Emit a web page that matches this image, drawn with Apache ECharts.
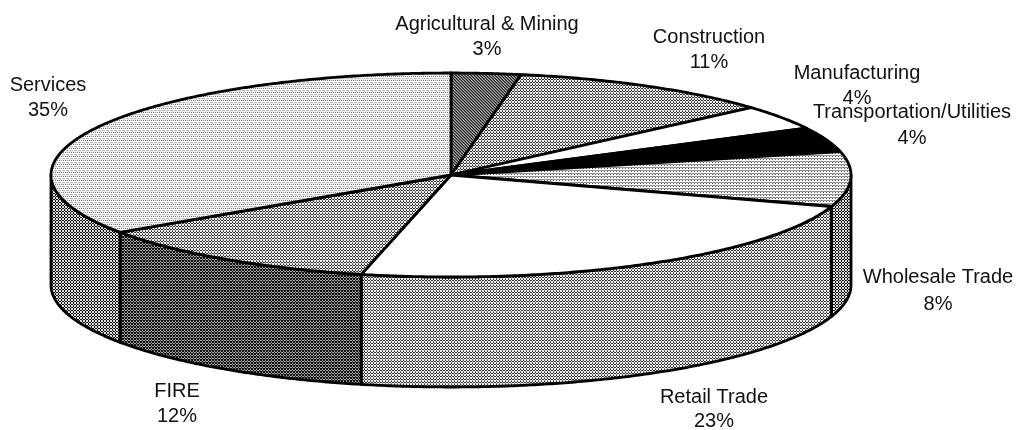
<!DOCTYPE html>
<html>
<head>
<meta charset="utf-8">
<style>
    html, body { margin: 0; padding: 0; background: #fff; }
    #pieChart { width: 1016px; height: 430px; }
</style>
<script src="https://cdn.jsdelivr.net/npm/echarts@6/dist/echarts.min.js"></script>
</head>
<body>
<div id="pieChart"></div>
<script>
var sectors = ['Agricultural & Mining', 'Construction', 'Manufacturing', 'Transportation/Utilities',
    'Wholesale Trade', 'Retail Trade', 'FIRE', 'Services'];
// shares as drawn, the printed labels are rounded by the source
var shares = [2.8, 10.7, 3.9, 3.9, 8.7, 23.6, 11.9, 34.5];
var percentLabels = ['3%', '11%', '4%', '4%', '8%', '23%', '12%', '35%'];

// tilted disc
var cx = 451, cy = 175, rx = 400, ry = 102, depth = 110;

// label centre x, name line y, percent line y
var labelSpots = [
    [487, 24, 49], [709, 37, 62], [857, 73, 98], [912, 112, 138],
    [938, 277, 304], [714, 397, 421], [177, 391, 416], [48, 85, 110]
];

// dither tiles, one hex digit per pixel grey level
var tiles = {
    white: ['f'],
    black: ['0'],
    lightest: ['f7f7', 'ffff', 'bfbb', 'eeee'],
    light: ['f5f', 'fff', '8a8'],
    mid: ['e3e', '3e3', 'e7e'],
    midDark: ['d1d', '1d1', 'd1d'],
    dark: ['1a1', 'a1a', '161'],
    diagonal: ['2a6', '62a', 'a62']
};
var topTiles = ['diagonal', 'mid', 'white', 'black', 'light', 'white', 'mid', 'lightest'];
var wallTiles = ['black', 'black', 'black', 'black', 'midDark', 'mid', 'dark', 'midDark'];

function makeTile(rows) {
    var canvas = document.createElement('canvas');
    canvas.width = rows[0].length;
    canvas.height = rows.length;
    var ctx = canvas.getContext('2d');
    for (var y = 0; y < rows.length; y++) {
        for (var x = 0; x < rows[y].length; x++) {
            var g = parseInt(rows[y][x], 16) * 17;
            ctx.fillStyle = 'rgb(' + g + ',' + g + ',' + g + ')';
            ctx.fillRect(x, y, 1, 1);
        }
    }
    return { image: canvas, repeat: 'repeat' };
}

var fills = {};
for (var name in tiles) {
    fills[name] = makeTile(tiles[name]);
}

function rimPoint(deg, drop) {
    var a = deg * Math.PI / 180;
    return [cx + rx * Math.sin(a), cy - ry * Math.cos(a) + drop];
}

function arcPoints(from, to, drop) {
    var pts = [];
    var n = Math.max(2, Math.ceil(Math.abs(to - from) * 2));
    for (var i = 0; i <= n; i++) {
        pts.push(rimPoint(from + (to - from) * i / n, drop));
    }
    return pts;
}

function renderSlice(params, api) {
    var i = params.dataIndex;
    var total = 0, before = 0;
    for (var k = 0; k < shares.length; k++) {
        if (k < i) before += shares[k];
        total += shares[k];
    }
    var start = before / total * 360;
    var end = (before + api.value(0)) / total * 360;
    var line = { stroke: '#000', lineWidth: 2.8, lineJoin: 'round' };
    var children = [];

    // only the front half of the rim shows
    var wallFrom = Math.max(start, 90), wallTo = Math.min(end, 270);
    if (wallTo > wallFrom) {
        var wall = arcPoints(wallFrom, wallTo, 0).concat(arcPoints(wallTo, wallFrom, depth));
        children.push({
            type: 'polygon',
            shape: { points: wall },
            style: Object.assign({ fill: fills[wallTiles[i]] }, line)
        });
    }
    children.push({
        type: 'polygon',
        shape: { points: [[cx, cy]].concat(arcPoints(start, end, 0)) },
        style: Object.assign({ fill: fills[topTiles[i]] }, line)
    });

    var spot = labelSpots[i];
    children.push({
        type: 'text', z2: 10,
        style: { text: sectors[i], x: spot[0], y: spot[1], align: 'center', verticalAlign: 'middle',
            fill: '#111', font: '20px "Liberation Sans"' }
    });
    children.push({
        type: 'text', z2: 10,
        style: { text: percentLabels[i], x: spot[0], y: spot[2], align: 'center', verticalAlign: 'middle',
            fill: '#111', font: '20px "Liberation Sans"' }
    });
    return { type: 'group', children: children };
}

var chart = echarts.init(document.getElementById('pieChart'), null, { renderer: 'canvas' });
chart.setOption({
    animation: false,
    backgroundColor: '#fff',
    series: [
        {
            type: 'custom',
            coordinateSystem: 'none',
            renderItem: renderSlice,
            data: shares
        }
    ]
});
</script>
</body>
</html>
